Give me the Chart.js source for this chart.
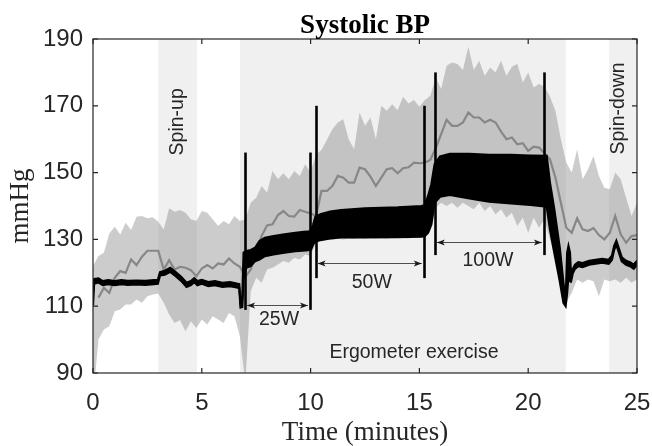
<!DOCTYPE html>
<html>
<head>
<meta charset="utf-8">
<script src="https://cdn.jsdelivr.net/npm/chart.js@4.4.1/dist/chart.umd.min.js"></script>
<style>
  html, body { margin: 0; padding: 0; background: #fff; }
</style>
</head>
<body>
<canvas id="bp-chart" width="652" height="446"></canvas>
<script>
// group data: time grid (minutes) for mean and +/- band
const bandTime = [
  0, 0.25, 0.5, 0.75, 1, 1.25, 1.5, 1.75, 2, 2.25, 2.5, 2.75,
  3, 3.25, 3.5, 3.75, 4, 4.25, 4.5, 4.75, 5, 5.25, 5.5, 5.75,
  6, 6.25, 6.5, 6.75, 7, 7.25, 7.5, 7.75, 8, 8.25, 8.5, 8.75,
  9, 9.25, 9.5, 9.75, 10, 10.25, 10.5, 10.75, 11, 11.25, 11.5, 11.75,
  12, 12.25, 12.5, 12.75, 13, 13.25, 13.5, 13.75, 14, 14.25, 14.5, 14.75,
  15, 15.25, 15.5, 15.75, 16, 16.25, 16.5, 16.75, 17, 17.25, 17.5, 17.75,
  18, 18.25, 18.5, 18.75, 19, 19.25, 19.5, 19.75, 20, 20.25, 20.5, 20.75,
  21, 21.25, 21.5, 21.75, 22, 22.25, 22.5, 22.75, 23, 23.25, 23.5, 23.75,
  24, 24.25, 24.5, 24.75, 25
];
const meanBP = [
  null, 112.5, 115.5, 114, 118.5, 120.5, 120, 124, 122.3, 124.8, 126.6, 126.6,
  126.6, 121, 123.8, 121, 121.8, 121.5, 120.8, 119, 121.3, 122.3, 121.3, 122.8,
  122.5, 124.3, 122.8, 121.8, 118.8, 121, 126.5, 131, 134.2, 134.5, 137.3, 138.5,
  137, 136.8, 138.8, 138.3, 137.8, 137, 144.5, 144.5, 146, 149, 148.5, 147,
  147, 151.5, 151, 148.8, 146, 148.5, 151, 151.3, 149.8, 151.3, 151.6, 153,
  152.8, 153, 153.8, 157.3, 161.5, 165.8, 164, 164, 165, 168, 166.5, 166.5,
  165, 165.8, 165, 162.3, 160, 160.5, 158.5, 158.8, 156.5, 157.8, 157.5, 155.8,
  154, 148.5, 141, 133.5, 132, 136.3, 133, 132.5, 133.4, 131.3, 130, 132,
  137, 131.5, 129, 131, 131.3
];
const bandUpper = [
  122, 125, 126, 131.8, 133.8, 131.5, 135, 132.8, 136.8, 137, 136.3, 136.6,
  135.3, 133, 139.3, 138.3, 138.8, 138, 136, 135.5, 138.5, 138, 136, 134,
  135.5, 134.5, 137, 135.5, 136, 141, 142.5, 146, 144, 150.5, 148, 149.8,
  148, 150.5, 149, 152.5, 150, 155.5, 156.8, 159.8, 163, 165, 166, 160,
  157, 168, 164, 166.5, 160, 170, 168.5, 170.5, 168.7, 172.7, 170.7, 171.7,
  169.7, 171.7, 173, 178.5, 175, 182, 183, 182.5, 180.7, 187.7, 180.7, 183.5,
  179, 181.5, 180, 183.5, 179, 181.7, 182.5, 177, 180, 175.5, 176.5, 175.7,
  172.7, 168.5, 160, 153, 150, 157, 148, 151, 155, 149, 145.5, 145,
  150, 148, 142.5, 137, 141
];
const bandLower = [
  82, 100, 103, 104, 108.5, 109, 110.5, 110.5, 112, 111, 113, 113.5,
  113.8, 111, 107.5, 105, 105.9, 102.5, 105.5, 103.5, 106, 104.5, 107, 106,
  105, 108, 107, 101, 87, 114.5, 118.5, 117, 121, 121.5, 122.5, 123.5,
  123, 124.5, 124, 125.5, 125, 129, 129.5, 130, 129.8, 130.2, 130, 130.3,
  130.1, 130.4, 130.2, 130.5, 130.3, 130.4, 130.2, 130.6, 130.4, 130.5, 130.3, 130.6,
  130.5, 131, 134, 139.5, 141, 140, 141, 139.5, 141, 140, 139, 141,
  138.5, 140, 137.5, 139, 136.5, 138, 134, 136.5, 132, 136.5, 133.5, 136,
  130, 124, 117, 111, 114, 118, 117, 118, 117.5, 113, 118, 117.5,
  118, 117, 118.5, 117, 118
];

// single subject trace, drawn as low/high envelope (beat-to-beat swing)
const blackTime = [
  0, 0.05, 0.25, 0.45, 0.7, 1, 1.3, 1.6, 2, 2.4, 2.8, 2.98,
  3.08, 3.3, 3.55, 3.8, 4.05, 4.3, 4.5, 4.65, 4.8, 5, 5.3, 5.6,
  5.95, 6.3, 6.6, 6.72, 6.78, 6.86, 6.92, 7.05, 7.25, 7.45, 7.65, 7.9,
  8.3, 8.8, 9.3, 9.8, 10.02, 10.12, 10.22, 10.45, 10.9, 11.4, 12.5, 14,
  15.1, 15.25, 15.4, 15.55, 15.7, 15.95, 16.4, 17.3, 18.2, 19.2, 20.1, 20.85,
  21, 21.2, 21.45, 21.62, 21.72, 21.79, 21.85, 21.92, 21.97, 22.05, 22.15, 22.3,
  22.5, 22.8, 23.1, 23.4, 23.7, 23.85, 23.95, 24.05, 24.15, 24.3, 24.5, 24.7,
  24.85, 25
];
const blackLow = [
  110.2, 116.7, 117.1, 116.3, 116.6, 116.3, 116.6, 116.4, 116.5, 116.4, 116.6, 116.7,
  119.2, 119.4, 120.3, 119, 117.6, 115.8, 116.3, 117.2, 116.3, 116.7, 116, 116.3,
  115.8, 116, 115.6, 115.4, 109.6, 109.8, 118.5, 121.5, 122, 123.5, 124, 125,
  125.5, 126, 126.5, 126.7, 127, 128.5, 129.3, 129.8, 130.3, 130.6, 130.6, 130.7,
  130.8, 131, 132, 134.5, 141, 142.8, 143.3, 142.3, 141.3, 140.8, 140.3, 139.8,
  133, 126, 117.5, 111, 110, 114, 119, 117.5, 117.4, 119.9, 121.2, 122,
  121.7, 122.4, 122.7, 123, 122.7, 123.9, 126.9, 128.4, 126.4, 123.4, 122.4, 121.9,
  121.2, 122.4
];
const blackHigh = [
  117.8, 118.1, 118.3, 117.5, 117.8, 117.5, 117.8, 117.6, 117.7, 117.6, 117.8, 117.9,
  120.2, 120.6, 121.5, 120.2, 118.8, 117, 117.5, 118.4, 117.5, 117.9, 117.2, 117.5,
  117, 117.2, 116.8, 116.6, 111, 112, 126, 126.5, 126.8, 127.5, 129.5, 130.5,
  131, 131.5, 132, 132.3, 132.5, 134.5, 136.8, 137.5, 138.3, 138.8, 139.3, 139.6,
  140, 140.3, 143, 146.5, 152.5, 154.8, 155.6, 155.6, 155.3, 155.3, 155.1, 155,
  147, 139, 127.5, 117, 111.5, 126, 128, 126, 119, 121.1, 122.4, 123.2,
  122.9, 123.6, 123.9, 124.2, 123.9, 125.1, 128.1, 129.6, 127.6, 124.6, 123.6, 123.1,
  122.4, 123.6
];

// protocol phases (shaded) and workload stages
const phaseStart = [3.0, 6.75, 23.72];
const phaseEnd = [4.78, 21.72, 25];
const phaseNames = ['Spin-up', 'Ergometer exercise', 'Spin-down'];
const stageNames = ['25W', '50W', '100W'];
const stageStart = [6.99, 10.23, 15.71];
const stageEnd = [9.97, 15.2, 20.72];
const markerLow = [108.9, 118.4, 125.3];
const markerHigh = [156, 170, 180];
const arrowLevel = [110.4, 123, 129.1];

const xTicks = [0, 5, 10, 15, 20, 25];
const yTicks = [90, 110, 130, 150, 170, 190];

const AXIS = '#262626';
const SANS = '"Liberation Sans", Arial, sans-serif';
const SERIF = '"Liberation Serif", "Times New Roman", serif';

function toPoints(xs, ys) {
  return xs.map((x, i) => ({x: x, y: ys[i]}));
}

// text spots for the labels, in data units
const phaseLabelAt = [[3.88, 165.2, true], [14.75, 96.2, false], [24.14, 169.2, true]];
const stageLabelAt = [[8.55, 105.9], [12.81, 117], [18.15, 123.6]];

const overlay = {
  id: 'overlay',
  beforeDatasetsDraw(chart) {
    const {ctx, chartArea: a, scales: {x}} = chart;
    ctx.save();
    ctx.fillStyle = '#f0f0f0';
    for (let i = 0; i < phaseStart.length; i++) {
      const x0 = x.getPixelForValue(phaseStart[i]);
      const x1 = x.getPixelForValue(phaseEnd[i]);
      ctx.fillRect(x0, a.top, x1 - x0, a.bottom - a.top);
    }
    ctx.restore();
  },
  afterDatasetsDraw(chart) {
    const {ctx, scales: {x, y}} = chart;
    ctx.save();

    // stage boundary bars
    ctx.strokeStyle = '#000';
    ctx.lineWidth = 2.6;
    for (let i = 0; i < stageNames.length; i++) {
      [stageStart[i], stageEnd[i]].forEach(t => {
        const px = Math.round(x.getPixelForValue(t)) + 0.5;
        ctx.beginPath();
        ctx.moveTo(px, y.getPixelForValue(markerLow[i]));
        ctx.lineTo(px, y.getPixelForValue(markerHigh[i]));
        ctx.stroke();
      });
    }

    // double arrows
    for (let i = 0; i < stageNames.length; i++) {
      const x0 = x.getPixelForValue(stageStart[i]) + 2;
      const x1 = x.getPixelForValue(stageEnd[i]) - 2;
      const py = Math.round(y.getPixelForValue(arrowLevel[i])) + 0.5;
      ctx.strokeStyle = '#4d4d4d';
      ctx.lineWidth = 1;
      ctx.beginPath();
      ctx.moveTo(x0, py);
      ctx.lineTo(x1, py);
      ctx.stroke();
      ctx.fillStyle = '#1a1a1a';
      ctx.beginPath();
      ctx.moveTo(x0, py);
      ctx.lineTo(x0 + 8, py - 3);
      ctx.lineTo(x0 + 6, py);
      ctx.lineTo(x0 + 8, py + 3);
      ctx.closePath();
      ctx.fill();
      ctx.beginPath();
      ctx.moveTo(x1, py);
      ctx.lineTo(x1 - 8, py - 3);
      ctx.lineTo(x1 - 6, py);
      ctx.lineTo(x1 - 8, py + 3);
      ctx.closePath();
      ctx.fill();
    }

    // labels
    ctx.fillStyle = AXIS;
    ctx.font = '19.5px ' + SANS;
    ctx.textAlign = 'center';
    ctx.textBaseline = 'middle';
    stageNames.forEach((name, i) => {
      ctx.fillText(name, x.getPixelForValue(stageLabelAt[i][0]), y.getPixelForValue(stageLabelAt[i][1]));
    });
    phaseNames.forEach((name, i) => {
      const px = x.getPixelForValue(phaseLabelAt[i][0]);
      const py = y.getPixelForValue(phaseLabelAt[i][1]);
      ctx.save();
      ctx.translate(px, py);
      if (phaseLabelAt[i][2]) ctx.rotate(-Math.PI / 2);
      ctx.fillText(name, 0, 0);
      ctx.restore();
    });
    ctx.restore();
  },
  afterDraw(chart) {
    const {ctx, chartArea: a, scales: {x, y}} = chart;
    ctx.save();
    ctx.strokeStyle = AXIS;
    ctx.lineWidth = 1.2;
    ctx.strokeRect(a.left, a.top, a.right - a.left, a.bottom - a.top);
    ctx.beginPath();
    x.ticks.forEach(t => {
      const px = x.getPixelForValue(t.value);
      ctx.moveTo(px, a.bottom);
      ctx.lineTo(px, a.bottom - 5);
      ctx.moveTo(px, a.top);
      ctx.lineTo(px, a.top + 5);
    });
    y.ticks.forEach(t => {
      const py = y.getPixelForValue(t.value);
      ctx.moveTo(a.left, py);
      ctx.lineTo(a.left + 5, py);
      ctx.moveTo(a.right, py);
      ctx.lineTo(a.right - 5, py);
    });
    ctx.stroke();

    ctx.fillStyle = '#000';
    ctx.font = 'bold 27px ' + SERIF;
    ctx.textAlign = 'center';
    ctx.textBaseline = 'alphabetic';
    ctx.fillText('Systolic BP', (a.left + a.right) / 2, 33);
    ctx.restore();
  }
};

const data = {
  datasets: [
    {
      label: 'Subject high',
      data: toPoints(blackTime, blackHigh),
      borderColor: '#000',
      backgroundColor: '#000',
      borderWidth: 2.2,
      fill: '+1'
    },
    {
      label: 'Subject low',
      data: toPoints(blackTime, blackLow),
      borderColor: '#000',
      borderWidth: 2.2,
      fill: false
    },
    {
      label: 'Mean',
      data: toPoints(bandTime, meanBP),
      borderColor: '#878787',
      borderWidth: 2.2,
      fill: false
    },
    {
      label: 'Band upper',
      data: toPoints(bandTime, bandUpper),
      borderColor: 'rgba(0,0,0,0)',
      borderWidth: 0,
      backgroundColor: 'rgba(128,128,128,0.4)',
      fill: '+1'
    },
    {
      label: 'Band lower',
      data: toPoints(bandTime, bandLower),
      borderColor: 'rgba(0,0,0,0)',
      borderWidth: 0,
      fill: false
    }
  ]
};

const config = {
  type: 'line',
  data: data,
  options: {
    responsive: false,
    animation: false,
    layout: {
      padding: {top: 39, right: 15, left: 0, bottom: 0}
    },
    elements: {
      point: {radius: 0},
      line: {tension: 0}
    },
    plugins: {
      legend: {display: false},
      tooltip: {enabled: false}
    },
    scales: {
      x: {
        type: 'linear',
        min: xTicks[0],
        max: xTicks[xTicks.length - 1],
        afterBuildTicks: s => { s.ticks = xTicks.map(v => ({value: v})); },
        afterFit: s => { s.height = 73; s.paddingLeft = 0; s.paddingRight = 0; },
        grid: {display: false, drawTicks: false},
        border: {display: false},
        ticks: {
          color: AXIS,
          font: {family: SANS, size: 24},
          padding: 16,
          maxRotation: 0,
          autoSkip: false
        },
        title: {
          display: true,
          text: 'Time (minutes)',
          color: AXIS,
          font: {family: SERIF, size: 27, lineHeight: 1},
          padding: {top: 0, bottom: 0}
        }
      },
      y: {
        type: 'linear',
        min: yTicks[0],
        max: yTicks[yTicks.length - 1],
        afterBuildTicks: s => { s.ticks = yTicks.map(v => ({value: v})); },
        afterFit: s => { s.width = 93; s.paddingTop = 0; s.paddingBottom = 0; },
        grid: {display: false, drawTicks: false},
        border: {display: false},
        ticks: {
          color: AXIS,
          font: {family: SANS, size: 24},
          padding: 10
        },
        title: {
          display: true,
          text: 'mmHg',
          color: AXIS,
          font: {family: SERIF, size: 27, lineHeight: 1},
          padding: {top: 7, bottom: 0}
        }
      }
    }
  },
  plugins: [overlay]
};

new Chart(document.getElementById('bp-chart'), config);
</script>
</body>
</html>
